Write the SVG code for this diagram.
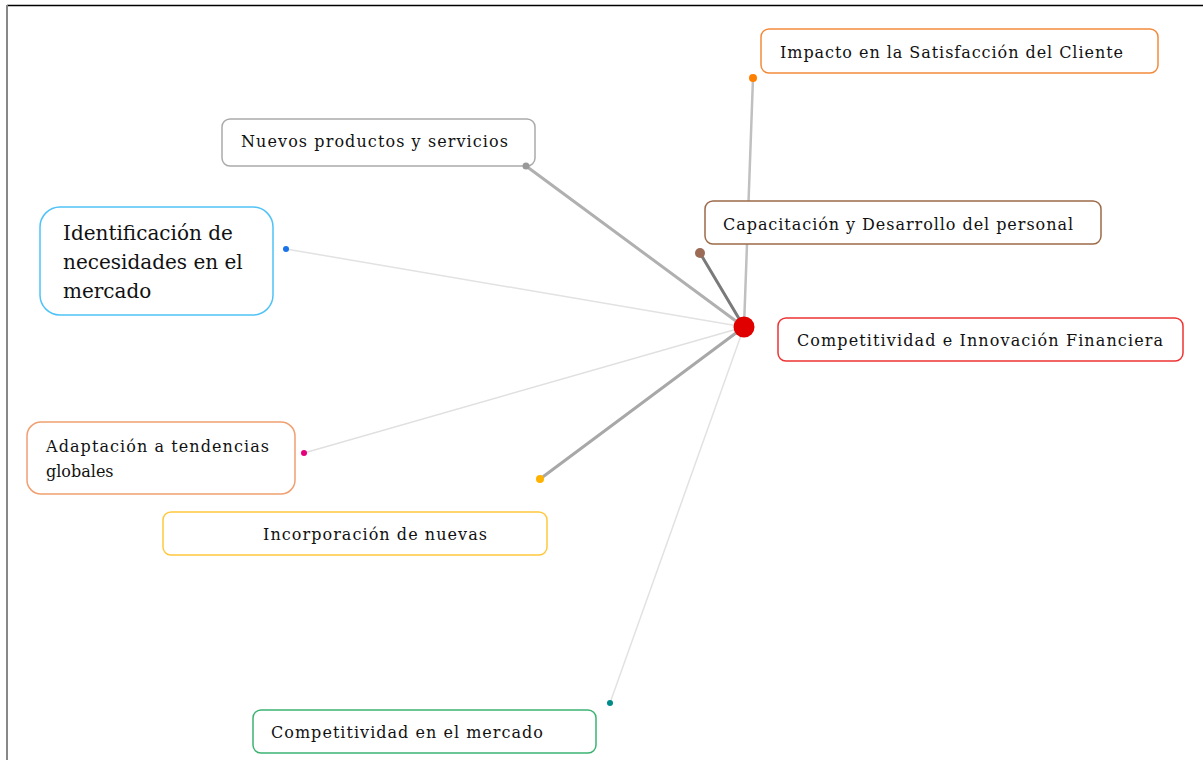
<svg xmlns="http://www.w3.org/2000/svg" width="1203" height="760" viewBox="0 0 1203 760">
<style>
.box{fill:#fff;stroke-width:1.5}
.t{font-family:"DejaVu Serif","Liberation Serif",serif;font-size:16px;fill:#111}
.tb{font-family:"DejaVu Serif","Liberation Serif",serif;font-size:20px;fill:#111}
</style>
<rect x="0" y="0" width="1203" height="760" fill="#fff"/>
<line x1="7" y1="5.5" x2="1203" y2="5.5" stroke="#000" stroke-width="1.5"/>
<line x1="7" y1="5" x2="7" y2="760" stroke="#888" stroke-width="2"/>
<g id="connectors" stroke-linecap="round">
<line x1="744" y1="327" x2="753" y2="78" stroke="#c0c0c0" stroke-width="2.5"/>
<line x1="744" y1="327" x2="526" y2="166" stroke="#b0b0b0" stroke-width="3"/>
<line x1="744" y1="327" x2="286" y2="249" stroke="#e2e2e2" stroke-width="1.5"/>
<line x1="744" y1="327" x2="700" y2="253" stroke="#7a7a7a" stroke-width="3"/>
<line x1="744" y1="327" x2="304" y2="453" stroke="#e0e0e0" stroke-width="1.5"/>
<line x1="744" y1="327" x2="540" y2="479" stroke="#a8a8a8" stroke-width="3"/>
<line x1="744" y1="327" x2="610" y2="703" stroke="#e2e2e2" stroke-width="1.5"/>
</g>
<g id="center">
<circle cx="744" cy="327" r="10.5" fill="#e00000"/>
</g>
<g id="n-impacto">
<rect class="box" x="761" y="29" width="397" height="44" rx="8" stroke="#f28a3c"/>
<circle cx="753" cy="78" r="4" fill="#ff7f00"/>
<text class="t" x="780" y="58" textLength="343">Impacto en la Satisfacción del Cliente</text>
</g>
<g id="n-nuevos">
<rect class="box" x="222" y="119" width="313" height="47" rx="8" stroke="#aaaaaa"/>
<circle cx="526" cy="166" r="3.5" fill="#999"/>
<text class="t" x="241" y="147" textLength="267">Nuevos productos y servicios</text>
</g>
<g id="n-identificacion">
<rect class="box" x="40" y="207" width="233" height="108" rx="20" stroke="#4fc3f7"/>
<circle cx="286" cy="249" r="3" fill="#1a73e8"/>
<text class="tb" x="63" y="240">Identificación de</text>
<text class="tb" x="63" y="269">necesidades en el</text>
<text class="tb" x="63" y="298">mercado</text>
</g>
<g id="n-capacitacion">
<rect class="box" x="705" y="201" width="396" height="43" rx="8" stroke="#9c6b4a"/>
<circle cx="700" cy="253" r="5" fill="#9c6b55"/>
<text class="t" x="723" y="230" textLength="350">Capacitación y Desarrollo  del personal</text>
</g>
<g id="n-competitividad-innovacion">
<rect class="box" x="778" y="318" width="405" height="43" rx="8" stroke="#ee3333"/>
<text class="t" x="797" y="346" textLength="366">Competitividad e Innovación Financiera</text>
</g>
<g id="n-adaptacion">
<rect class="box" x="27" y="422" width="268" height="72" rx="14" stroke="#f0a070"/>
<circle cx="304" cy="453" r="3" fill="#e6007e"/>
<text class="t" x="46" y="452" textLength="223">Adaptación a tendencias</text>
<text class="t" x="46" y="477">globales</text>
</g>
<g id="n-incorporacion">
<rect class="box" x="163" y="512" width="384" height="43" rx="8" stroke="#ffc83d"/>
<circle cx="540" cy="479" r="4" fill="#ffb300"/>
<text class="t" x="263" y="540" textLength="224">Incorporación de nuevas</text>
</g>
<g id="n-mercado">
<rect class="box" x="253" y="710" width="343" height="43" rx="8" stroke="#3cb371"/>
<circle cx="610" cy="703" r="3" fill="#008b8b"/>
<text class="t" x="271" y="738" textLength="272">Competitividad en el mercado</text>
</g>
</svg>
